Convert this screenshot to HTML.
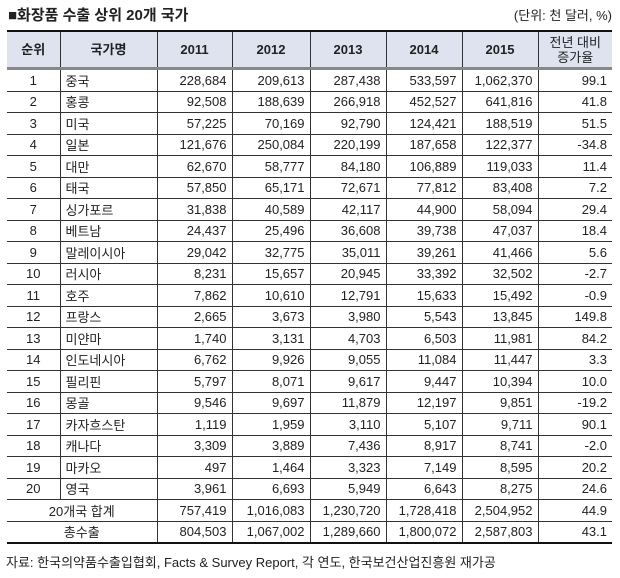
<!DOCTYPE html>
<html><head><meta charset="utf-8"><style>
body{margin:0;width:620px;height:578px;background:#fff;font-family:"Liberation Sans","Noto Sans CJK KR",sans-serif;color:#222;position:relative;overflow:hidden}
.t{position:absolute;left:8px;top:4px;font-size:15px;font-weight:bold}
.u{position:absolute;right:8px;top:5px;font-size:13px}
table{position:absolute;left:7px;top:30px;border-collapse:collapse;table-layout:fixed;font-size:13px}
td,th{border:1px solid #333;padding:0 5px;height:20.5px;white-space:nowrap;overflow:hidden}
tr>*:first-child{border-left:none}tr>*:last-child{border-right:none}
table{border-top:2px solid #111;border-bottom:2px solid #111}
th{background:#dfe3f0;height:35px;font-weight:bold;font-size:13px;border-bottom:3px solid #888;line-height:15px}
th.s{font-weight:normal}
td{text-align:right}
td.c{text-align:center}td.l{text-align:left}
.f{position:absolute;left:6px;top:552px;font-size:13px}
</style></head><body>
<div class="t">■화장품 수출 상위 20개 국가</div>
<div class="u">(단위: 천 달러, %)</div>
<table>
<colgroup><col style="width:53px"><col style="width:97px"><col style="width:75px"><col style="width:78px"><col style="width:76px"><col style="width:76px"><col style="width:76px"><col style="width:74px"></colgroup>
<tr><th>순위</th><th>국가명</th><th>2011</th><th>2012</th><th>2013</th><th>2014</th><th>2015</th><th class="s">전년 대비<br>증가율</th></tr>
<tr><td class="c">1</td><td class="l">중국</td><td>228,684</td><td>209,613</td><td>287,438</td><td>533,597</td><td>1,062,370</td><td>99.1</td></tr>
<tr><td class="c">2</td><td class="l">홍콩</td><td>92,508</td><td>188,639</td><td>266,918</td><td>452,527</td><td>641,816</td><td>41.8</td></tr>
<tr><td class="c">3</td><td class="l">미국</td><td>57,225</td><td>70,169</td><td>92,790</td><td>124,421</td><td>188,519</td><td>51.5</td></tr>
<tr><td class="c">4</td><td class="l">일본</td><td>121,676</td><td>250,084</td><td>220,199</td><td>187,658</td><td>122,377</td><td>-34.8</td></tr>
<tr><td class="c">5</td><td class="l">대만</td><td>62,670</td><td>58,777</td><td>84,180</td><td>106,889</td><td>119,033</td><td>11.4</td></tr>
<tr><td class="c">6</td><td class="l">태국</td><td>57,850</td><td>65,171</td><td>72,671</td><td>77,812</td><td>83,408</td><td>7.2</td></tr>
<tr><td class="c">7</td><td class="l">싱가포르</td><td>31,838</td><td>40,589</td><td>42,117</td><td>44,900</td><td>58,094</td><td>29.4</td></tr>
<tr><td class="c">8</td><td class="l">베트남</td><td>24,437</td><td>25,496</td><td>36,608</td><td>39,738</td><td>47,037</td><td>18.4</td></tr>
<tr><td class="c">9</td><td class="l">말레이시아</td><td>29,042</td><td>32,775</td><td>35,011</td><td>39,261</td><td>41,466</td><td>5.6</td></tr>
<tr><td class="c">10</td><td class="l">러시아</td><td>8,231</td><td>15,657</td><td>20,945</td><td>33,392</td><td>32,502</td><td>-2.7</td></tr>
<tr><td class="c">11</td><td class="l">호주</td><td>7,862</td><td>10,610</td><td>12,791</td><td>15,633</td><td>15,492</td><td>-0.9</td></tr>
<tr><td class="c">12</td><td class="l">프랑스</td><td>2,665</td><td>3,673</td><td>3,980</td><td>5,543</td><td>13,845</td><td>149.8</td></tr>
<tr><td class="c">13</td><td class="l">미얀마</td><td>1,740</td><td>3,131</td><td>4,703</td><td>6,503</td><td>11,981</td><td>84.2</td></tr>
<tr><td class="c">14</td><td class="l">인도네시아</td><td>6,762</td><td>9,926</td><td>9,055</td><td>11,084</td><td>11,447</td><td>3.3</td></tr>
<tr><td class="c">15</td><td class="l">필리핀</td><td>5,797</td><td>8,071</td><td>9,617</td><td>9,447</td><td>10,394</td><td>10.0</td></tr>
<tr><td class="c">16</td><td class="l">몽골</td><td>9,546</td><td>9,697</td><td>11,879</td><td>12,197</td><td>9,851</td><td>-19.2</td></tr>
<tr><td class="c">17</td><td class="l">카자흐스탄</td><td>1,119</td><td>1,959</td><td>3,110</td><td>5,107</td><td>9,711</td><td>90.1</td></tr>
<tr><td class="c">18</td><td class="l">캐나다</td><td>3,309</td><td>3,889</td><td>7,436</td><td>8,917</td><td>8,741</td><td>-2.0</td></tr>
<tr><td class="c">19</td><td class="l">마카오</td><td>497</td><td>1,464</td><td>3,323</td><td>7,149</td><td>8,595</td><td>20.2</td></tr>
<tr><td class="c">20</td><td class="l">영국</td><td>3,961</td><td>6,693</td><td>5,949</td><td>6,643</td><td>8,275</td><td>24.6</td></tr>
<tr><td class="c" colspan="2">20개국 합계</td><td>757,419</td><td>1,016,083</td><td>1,230,720</td><td>1,728,418</td><td>2,504,952</td><td>44.9</td></tr>
<tr><td class="c" colspan="2">총수출</td><td>804,503</td><td>1,067,002</td><td>1,289,660</td><td>1,800,072</td><td>2,587,803</td><td>43.1</td></tr>
</table>
<div class="f">자료: 한국의약품수출입협회, Facts &amp; Survey Report, 각 연도, 한국보건산업진흥원 재가공</div>
</body></html>
